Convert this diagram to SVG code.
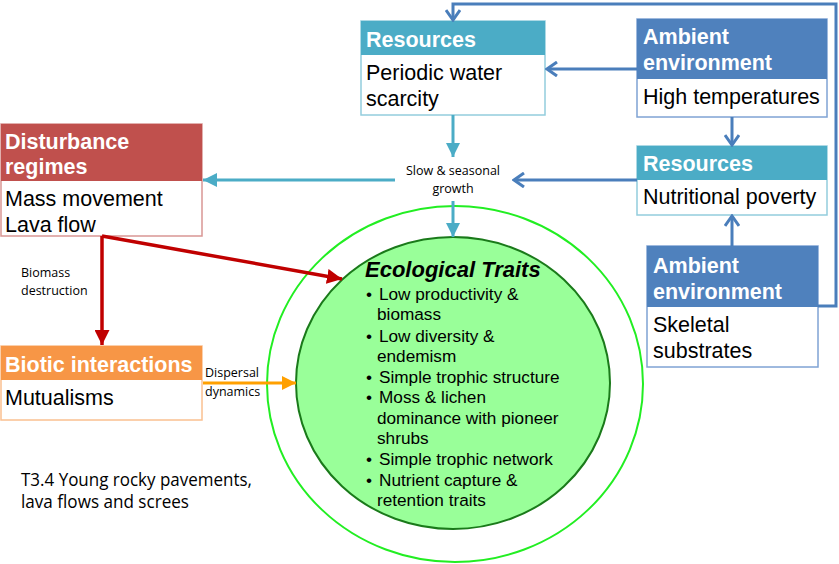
<svg xmlns="http://www.w3.org/2000/svg" width="839" height="564" viewBox="0 0 839 564">
<style>
.hd{font-family:"Liberation Sans",Arial,sans-serif;font-weight:bold;font-size:21.5px;fill:#fff}
.bd{font-family:"Liberation Sans",Arial,sans-serif;font-size:21.5px;fill:#000}
.lb{font-family:"Open Sans","Noto Sans",sans-serif;font-size:12.5px;fill:#000}
.tr{font-family:"Liberation Sans",Arial,sans-serif;font-size:17.2px;fill:#000}
.blue{stroke:#4A7EBB;stroke-width:3;fill:none}
.teal{stroke:#4BACC6;stroke-width:3;fill:none}
.red{stroke:#C00000;stroke-width:3.5;fill:none}
.orange{stroke:#FFA000;stroke-width:3;fill:none}
</style>
<defs>
<marker id="chev" viewBox="0 0 14 16" refX="12" refY="8" markerWidth="14" markerHeight="16" markerUnits="userSpaceOnUse" orient="auto">
<path d="M2,1 L12,8 L2,15" fill="none" stroke="#4A7EBB" stroke-width="3"/>
</marker>
<marker id="tealh" viewBox="0 0 14 14" refX="14" refY="7" markerWidth="14" markerHeight="14" markerUnits="userSpaceOnUse" orient="auto">
<path d="M0,0 L14,7 L0,14 z" fill="#4BACC6"/>
</marker>
<marker id="redh" viewBox="0 0 14 14" refX="14" refY="7" markerWidth="15" markerHeight="15" markerUnits="userSpaceOnUse" orient="auto">
<path d="M0,0 L14,7 L0,14 z" fill="#C00000"/>
</marker>
<marker id="orh" viewBox="0 0 14 14" refX="14" refY="7" markerWidth="14" markerHeight="14" markerUnits="userSpaceOnUse" orient="auto">
<path d="M0,0 L14,7 L0,14 z" fill="#FFA000"/>
</marker>
</defs>
<rect width="839" height="564" fill="#fff"/>

<g id="traits-circle">
<ellipse cx="455" cy="384" rx="188" ry="178" fill="none" stroke="#22EE22" stroke-width="2"/>
<ellipse cx="453" cy="383" rx="157" ry="146" fill="#99FF99" stroke="#1A7A1A" stroke-width="2"/>
<text x="365" y="277" font-family="Liberation Sans,Arial,sans-serif" font-weight="bold" font-style="italic" font-size="22px">Ecological Traits</text>
<g class="tr">
<text x="366" y="300">•</text><text x="379" y="300">Low productivity &amp;</text>
<text x="377" y="320">biomass</text>
<text x="366" y="342">•</text><text x="379" y="342">Low diversity &amp;</text>
<text x="377" y="362">endemism</text>
<text x="366" y="383">•</text><text x="379" y="383">Simple trophic structure</text>
<text x="366" y="403">•</text><text x="379" y="403">Moss &amp; lichen</text>
<text x="377" y="424">dominance with pioneer</text>
<text x="377" y="444">shrubs</text>
<text x="366" y="465">•</text><text x="379" y="465">Simple trophic network</text>
<text x="366" y="486">•</text><text x="379" y="486">Nutrient capture &amp;</text>
<text x="377" y="506">retention traits</text>
</g>
</g>

<g id="resources-water">
<rect x="361" y="21" width="184" height="94" fill="#fff" stroke="#93CDDD" stroke-width="1.5"/>
<rect x="361" y="21" width="184" height="34" fill="#4BACC6"/>
<text class="hd" x="366" y="47">Resources</text>
<text class="bd" x="366" y="80">Periodic water</text>
<text class="bd" x="366" y="106">scarcity</text>
</g>

<g id="ambient-temp">
<rect x="637" y="19" width="190" height="98" fill="#fff" stroke="#7FA3D4" stroke-width="1.5"/>
<rect x="637" y="19" width="190" height="60" fill="#4F81BD"/>
<text class="hd" x="643" y="44">Ambient</text>
<text class="hd" x="643" y="70">environment</text>
<text class="bd" x="643" y="104">High temperatures</text>
</g>

<g id="resources-nutrition">
<rect x="637" y="146" width="190" height="69" fill="#fff" stroke="#93CDDD" stroke-width="1.5"/>
<rect x="637" y="146" width="190" height="34" fill="#4BACC6"/>
<text class="hd" x="643" y="171">Resources</text>
<text class="bd" x="643" y="204">Nutritional poverty</text>
</g>

<g id="ambient-substrate">
<rect x="647" y="246" width="171" height="121" fill="#fff" stroke="#7FA3D4" stroke-width="1.5"/>
<rect x="647" y="246" width="171" height="61" fill="#4F81BD"/>
<text class="hd" x="653" y="273">Ambient</text>
<text class="hd" x="653" y="299">environment</text>
<text class="bd" x="653" y="332">Skeletal</text>
<text class="bd" x="653" y="358">substrates</text>
</g>

<g id="disturbance">
<rect x="1" y="124" width="201" height="112" fill="#fff" stroke="#D99694" stroke-width="1.5"/>
<rect x="1" y="124" width="201" height="57" fill="#C0504D"/>
<text class="hd" x="5" y="149">Disturbance</text>
<text class="hd" x="5" y="174">regimes</text>
<text class="bd" x="5" y="206">Mass movement</text>
<text class="bd" x="5" y="232">Lava flow</text>
</g>

<g id="biotic">
<rect x="1" y="346" width="201" height="74" fill="#fff" stroke="#FAC090" stroke-width="1.5"/>
<rect x="1" y="346" width="201" height="34" fill="#F79646"/>
<text class="hd" x="5" y="372">Biotic interactions</text>
<text class="bd" x="5" y="405">Mutualisms</text>
</g>

<g id="connectors">
<path class="blue" d="M818,306 H836 V4 H453 V20" marker-end="url(#chev)"/>
<path class="blue" d="M637,69 H547" marker-end="url(#chev)"/>
<path class="blue" d="M732,117 V145" marker-end="url(#chev)"/>
<path class="blue" d="M637,180 H514" marker-end="url(#chev)"/>
<path class="blue" d="M732,246 V216" marker-end="url(#chev)"/>
<path class="teal" d="M453,115 V157" marker-end="url(#tealh)"/>
<path class="teal" d="M395,180 H203" marker-end="url(#tealh)"/>
<path class="teal" d="M453,201 V237" marker-end="url(#tealh)"/>
<path class="red" d="M102,236 V345" marker-end="url(#redh)"/>
<path class="red" d="M102,236 L342,279" marker-end="url(#redh)"/>
<path class="orange" d="M203,383 H296" marker-end="url(#orh)"/>
</g>

<g id="labels">
<text class="lb" x="453" y="175" text-anchor="middle">Slow &amp; seasonal</text>
<text class="lb" x="453" y="193" text-anchor="middle">growth</text>
<text class="lb" x="21" y="277">Biomass</text>
<text class="lb" x="21" y="295">destruction</text>
<text class="lb" x="205" y="377">Dispersal</text>
<text class="lb" x="205" y="396">dynamics</text>
<text x="21" y="486" font-family="Open Sans,Noto Sans,sans-serif" font-size="17.5px" textLength="231" lengthAdjust="spacingAndGlyphs">T3.4 Young rocky pavements,</text>
<text x="21" y="508" font-family="Open Sans,Noto Sans,sans-serif" font-size="17.5px" textLength="168" lengthAdjust="spacingAndGlyphs">lava flows and screes</text>
</g>
</svg>
